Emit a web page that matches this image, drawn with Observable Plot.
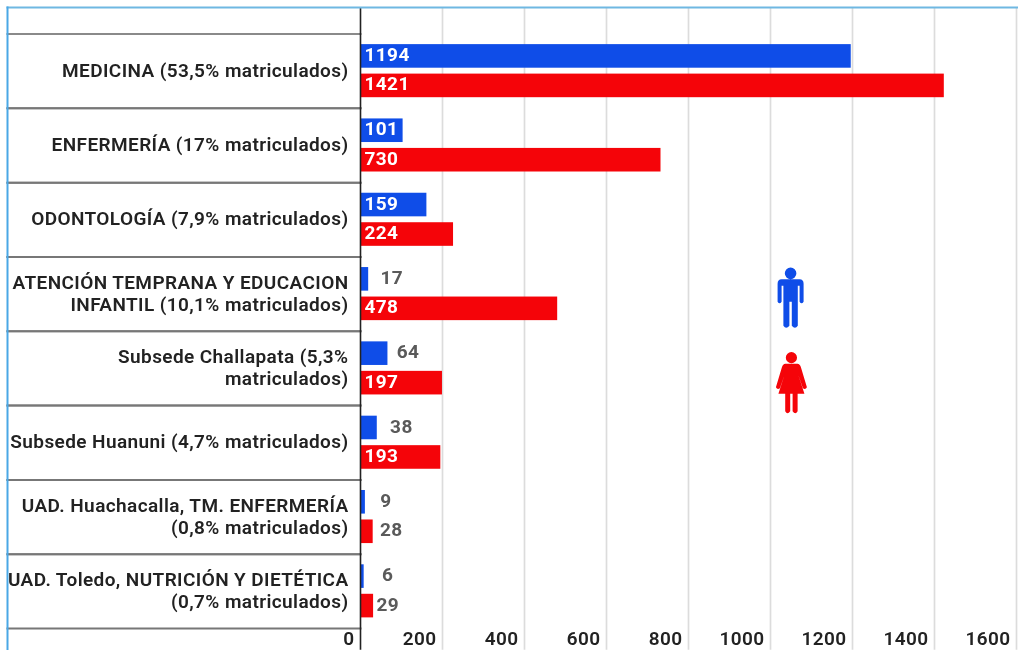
<!DOCTYPE html>
<html>
<head>
<meta charset="utf-8">
<script src="https://cdn.jsdelivr.net/npm/d3@7"></script>
<script src="https://cdn.jsdelivr.net/npm/@observablehq/plot@0.6"></script>
<style>
html,body{margin:0;padding:0;background:#fff;overflow:hidden}
svg{display:block;filter:blur(.4px)}
svg text{letter-spacing:.4px}
</style>
</head>
<body>
<div id="chart"></div>
<script>
const categories = [
  "MEDICINA (53,5% matriculados)",
  "ENFERMERÍA (17% matriculados)",
  "ODONTOLOGÍA (7,9% matriculados)",
  "ATENCIÓN TEMPRANA Y EDUCACION\nINFANTIL (10,1% matriculados)",
  "Subsede Challapata (5,3%\nmatriculados)",
  "Subsede Huanuni (4,7% matriculados)",
  "UAD. Huachacalla, TM. ENFERMERÍA\n(0,8% matriculados)",
  "UAD. Toledo, NUTRICIÓN Y DIETÉTICA\n(0,7% matriculados)"
];
const hombres = [1194, 101, 159, 17, 64, 38, 9, 6];
const mujeres = [1421, 730, 224, 478, 197, 193, 28, 29];
const xTicks = [0, 200, 400, 600, 800, 1000, 1200, 1400, 1600];

const BLUE = "#0f4de8", RED = "#f50409";
const rows = categories.flatMap((c, i) => [
  {cat: c, sex: "H", value: hombres[i]},
  {cat: c, sex: "M", value: mujeres[i]}
]);
const inside = rows.filter(d => d.value >= 100);
const outside = rows.filter(d => d.value < 100);
const gapAfterBar = new Map([[17,13],[64,10],[38,14],[9,16],[28,8],[6,19],[29,4]]);

const manSymbol = {draw(c) {
  c.moveTo(5.8,-25.5); c.arc(0,-25.5,5.8,0,2*Math.PI); c.closePath();
  c.moveTo(-9,-19.5); c.lineTo(9,-19.5); c.quadraticCurveTo(13,-19.5,13,-15);
  c.lineTo(13,3); c.quadraticCurveTo(11,6,9,3); c.lineTo(9,-13); c.lineTo(7.2,-13);
  c.lineTo(7.2,27); c.quadraticCurveTo(4.5,31,1.2,27); c.lineTo(1.2,3); c.lineTo(-1.2,3);
  c.lineTo(-1.2,27); c.quadraticCurveTo(-4.5,31,-7.2,27); c.lineTo(-7.2,-13); c.lineTo(-9,-13);
  c.lineTo(-9,3); c.quadraticCurveTo(-11,6,-13,3); c.lineTo(-13,-15); c.quadraticCurveTo(-13,-19.5,-9,-19.5);
  c.closePath();
}};
const womanSymbol = {draw(c) {
  c.moveTo(5.6,-25.5); c.arc(0,-25.5,5.6,0,2*Math.PI); c.closePath();
  c.moveTo(-6,-19.5); c.lineTo(6,-19.5); c.quadraticCurveTo(8.5,-19.5,9.5,-16);
  c.lineTo(15.5,4); c.quadraticCurveTo(14,7,11.5,5); c.lineTo(7,-8); c.lineTo(13,10.5);
  c.lineTo(6.2,10.5); c.lineTo(6.2,28); c.quadraticCurveTo(4,32,1.2,28); c.lineTo(1.2,10.5); c.lineTo(-1.2,10.5);
  c.lineTo(-1.2,28); c.quadraticCurveTo(-4,32,-6.2,28); c.lineTo(-6.2,10.5); c.lineTo(-13,10.5);
  c.lineTo(-7,-8); c.lineTo(-11.5,5); c.quadraticCurveTo(-14,7,-15.5,4);
  c.lineTo(-9.5,-16); c.quadraticCurveTo(-8.5,-19.5,-6,-19.5);
  c.closePath();
}};

const firstRow = () => categories[0];
const tallRule = {insetTop: -26.5, insetBottom: -542, fy: firstRow};

const chart = Plot.plot({
  width: 1018, height: 650,
  marginLeft: 360, marginRight: 2, marginTop: 33.5, marginBottom: 22,
  style: {fontFamily: "Roboto, sans-serif", background: "#fff"},
  x: {domain: [0, 1600], label: null},
  y: {domain: ["H", "M"], paddingInner: 0.2, paddingOuter: 0.36, round: false, axis: null},
  fy: {domain: categories, padding: 0, round: false, label: null, axis: null},
  marks: [
    Plot.ruleX(xTicks.slice(1), {stroke: "#dcdcdc", strokeWidth: 1.7, ...tallRule}),
    Plot.frame({anchor: "top", stroke: "#8a8a8a", strokeWidth: 2, insetLeft: -353, insetRight: 656}),
    Plot.frame({anchor: "bottom", stroke: "#777", strokeWidth: 2, insetLeft: -353, insetRight: 656}),
    Plot.axisFy({anchor: "left", tickSize: 0, tickPadding: 12, fontSize: 19, fontWeight: 600, fill: "#222", lineHeight: 1.16, label: null, dy: -1.5}),
    Plot.barX(rows, {x: "value", y: "sex", fy: "cat", fill: d => d.sex === "H" ? BLUE : RED, insetLeft: 1, insetRight: -1.2}),
    Plot.ruleX([0], {stroke: "#222", strokeWidth: 1.6, ...tallRule}),
    Plot.text(inside, {x: () => 0, y: "sex", fy: "cat", text: d => String(d.value), fill: "#fff", fontWeight: 700, fontSize: 19, textAnchor: "start", dx: 4, dy: -1.5}),
    ...[...gapAfterBar].map(([v, gap]) => Plot.text(outside.filter(d => d.value === v), {
      x: "value", y: "sex", fy: "cat", text: d => String(d.value), fill: "#5a5a5a", fontWeight: 700, fontSize: 19, textAnchor: "start", dx: gap, dy: -1.5
    })),
    Plot.dot([{cat: categories[3], sex: "M", value: 1049}], {x: "value", y: "sex", fy: "cat", symbol: manSymbol, r: 10, fill: BLUE, stroke: "none", dy: -10}),
    Plot.dot([{cat: categories[4], sex: "M", value: 1051}], {x: "value", y: "sex", fy: "cat", symbol: womanSymbol, r: 10, fill: RED, stroke: "none", dy: 0}),
    Plot.axisX(xTicks, {anchor: "bottom", tickSize: 0, tickPadding: 3, textAnchor: "end", dx: -6, fontSize: 19, fontWeight: 600, fill: "#222", label: null, tickFormat: d => String(d)}),
    Plot.frame({anchor: "top", stroke: "#6fb8e2", strokeWidth: 2, insetTop: -26.5, insetLeft: -353, insetRight: -2, facet: "super"}),
    Plot.frame({anchor: "left", stroke: "#4aa8e6", strokeWidth: 2, insetLeft: -353, insetTop: -26.5, insetBottom: -22, facet: "super"})
  ]
});
document.getElementById("chart").append(chart);
</script>
</body>
</html>
